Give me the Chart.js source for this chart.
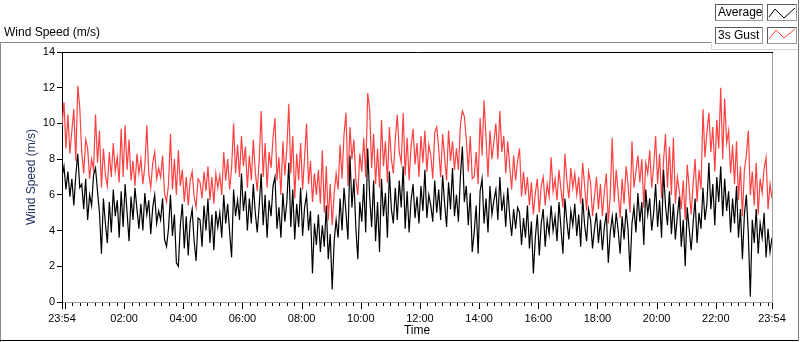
<!DOCTYPE html>
<html>
<head>
<meta charset="utf-8">
<script src="https://cdn.jsdelivr.net/npm/chart.js@4.4.1/dist/chart.umd.min.js"></script>
<style>
  html, body { margin: 0; padding: 0; background: #fff; }
  #wrap { position: relative; width: 800px; height: 342px; overflow: hidden; font-family: "Liberation Sans", Arial, sans-serif; }
  #wrap canvas { position: absolute; left: 0; top: 0; }
  .ln { position: absolute; }
  .title { position: absolute; left: 4px; top: 25px; font-size: 12px; line-height: 14px; color: #000; white-space: nowrap; }
  .box { position: absolute; height: 17px; box-sizing: border-box; background: #fff;
         border: 1px solid #5a5a5a; border-right-color: #9a9a9a; border-bottom-color: #9a9a9a; }
  .box span { position: absolute; left: 2px; top: 0; font-size: 12px; line-height: 15px; color: #000; white-space: nowrap; }
  .box svg { position: absolute; left: 0; top: 0; }
</style>
</head>
<body>
<div id="wrap">
  <canvas id="c" width="800" height="342"></canvas>
  <div class="title">Wind Speed (m/s)</div>
  <!-- frame -->
  <div class="ln" style="left:0;top:42px;width:711px;height:1px;background:#8a8a8a"></div>
  <div class="ln" style="left:0;top:42px;width:1px;height:300px;background:#8a8a8a"></div>
  <div class="ln" style="left:0;top:340px;width:799px;height:1px;background:#000"></div>
  <div class="ln" style="left:711px;top:42px;width:1px;height:8px;background:#d4d4d4"></div>
  <div class="ln" style="left:711px;top:49px;width:88px;height:1px;background:#d4d4d4"></div>
  <div class="ln" style="left:798px;top:0;width:1px;height:341px;background:#7a7a7a"></div>
  <!-- legend -->
  <div class="box" style="left:715px;top:4px;width:48px"><span>Average</span></div>
  <div class="box" style="left:767px;top:4px;width:30px">
    <svg width="28" height="15"><polyline points="1,12 7,4 16,13 27,3" fill="none" stroke="#000" stroke-width="1"/></svg>
  </div>
  <div class="box" style="left:715px;top:27px;width:48px"><span>3s Gust</span></div>
  <div class="box" style="left:767px;top:27px;width:30px">
    <svg width="28" height="15"><polyline points="1,11 8,2 16,10 27,1" fill="none" stroke="#ff4040" stroke-width="1"/></svg>
  </div>
</div>
<script>
// samples every 4 minutes, starting 23:54
const stepMin = 4;

const avgSpeed = [
  7.0, 7.6, 6.3, 7.3, 5.9, 6.9, 5.4, 7.1, 8.3, 6.4,
  6.6, 5.2, 6.9, 4.6, 6.0, 5.4, 7.1, 7.5, 6.2, 5.0,
  2.7, 5.8, 4.4, 3.3, 5.6, 3.9, 6.3, 4.8, 5.7, 3.6,
  6.2, 4.2, 6.6, 5.0, 3.4, 5.9, 4.6, 6.4, 5.2, 4.1,
  5.5, 4.0, 6.1, 4.9, 5.7, 3.8, 5.3, 6.0, 4.4, 5.1,
  4.6, 5.8, 3.5, 3.1, 4.1, 6.0, 3.7, 4.9, 2.2, 2.0,
  4.3, 5.5, 3.0, 4.8, 2.6, 4.5, 5.2, 3.4, 2.3, 4.7,
  4.6, 3.1, 5.4, 4.0, 5.8, 3.3, 4.9, 2.9, 5.1, 4.2,
  5.0, 3.6, 6.0, 4.4, 5.5, 3.9, 2.5, 6.3, 4.8, 5.7,
  4.6, 7.2, 5.1, 6.2, 4.0, 5.8, 4.4, 6.6, 5.0, 3.9,
  5.4, 7.2, 4.3, 6.0, 3.6, 5.7, 4.8, 6.5, 7.0, 4.1,
  5.3, 3.6, 6.1, 4.5, 5.6, 7.8, 4.2, 6.3, 3.5, 5.5,
  4.2, 6.4, 3.7, 5.3, 6.0, 4.0, 5.1, 1.6, 4.4, 3.2,
  4.9, 2.8, 4.3, 3.1, 5.4, 2.4, 3.8, 0.7, 3.4, 4.6,
  3.6, 5.8, 4.0, 6.4, 5.0, 3.5, 8.2, 5.3, 6.9, 4.1,
  2.4, 5.6, 4.5, 6.6, 3.9, 8.6, 5.9, 4.2, 6.8, 3.4,
  5.6, 2.8, 6.9, 4.8, 6.1, 3.6, 7.3, 5.2, 4.4, 6.4,
  4.6, 6.8, 5.3, 7.6, 4.1, 6.2, 3.9, 5.7, 6.6, 4.7,
  5.9, 4.4, 6.5, 5.1, 7.4, 4.7, 6.0, 5.4, 4.5, 6.8,
  5.0, 6.3, 4.6, 7.1, 5.5, 4.2, 6.7, 5.2, 7.5, 4.8,
  6.0, 4.5, 7.0, 8.7, 5.6, 6.5, 4.3, 6.1, 2.8, 3.9,
  5.4, 2.7, 6.2, 6.9, 4.4, 5.8, 3.9, 6.5, 4.9, 5.7,
  6.3, 4.6, 7.0, 5.1, 5.9, 4.2, 6.4, 4.8, 3.7, 5.2,
  4.1, 5.3, 5.0, 3.2, 4.7, 3.6, 5.4, 3.0, 4.5, 1.6,
  3.6, 4.9, 2.6, 4.4, 5.2, 3.1, 4.6, 3.8, 5.4, 4.0,
  4.8, 3.4, 5.6, 4.1, 2.7, 5.8, 4.5, 3.5, 5.1, 4.3,
  5.5, 3.7, 4.9, 3.1, 5.8, 4.3, 3.4, 5.2, 4.6, 3.0,
  4.1, 5.0, 3.3, 4.6, 2.9, 4.2, 5.0, 2.2, 3.9, 4.8,
  3.6, 5.0, 4.0, 2.7, 4.8, 3.5, 5.2, 4.1, 1.7, 4.4,
  5.3, 3.9, 6.1, 4.5, 5.6, 3.2, 6.3, 4.9, 5.8, 4.0,
  5.0, 6.6, 4.2, 5.7, 3.6, 7.4, 5.4, 4.3, 6.2, 3.8,
  5.5, 3.5, 4.8, 5.9, 3.1, 4.6, 2.0, 5.3, 4.1, 2.9,
  4.4, 5.8, 3.3, 5.0, 4.1, 6.4, 4.6, 5.5, 7.8, 5.2,
  6.6, 4.3, 7.0, 5.6, 7.6, 4.8, 6.9, 5.1, 6.2, 3.9,
  5.8, 4.4, 6.5, 3.6, 5.2, 2.4, 4.9, 6.0, 3.8, 0.3,
  4.6, 3.3, 5.2, 2.7, 4.4, 3.6, 5.0, 2.5, 4.1, 2.8, 3.6
];

const gustSpeed = [
  9.9, 11.2, 8.6, 10.5, 8.3, 9.6, 10.8, 7.9, 12.1, 10.9,
  8.4, 7.2, 9.1, 8.6, 6.9, 8.0, 7.4, 10.5, 7.8, 9.6,
  6.4, 8.6, 7.1, 6.5, 8.4, 7.0, 8.9, 7.3, 8.1, 6.7,
  9.7, 7.0, 9.9, 7.4, 9.1, 6.8, 7.9, 6.5, 8.3, 7.2,
  8.0, 6.6, 7.6, 9.9, 7.2, 6.4, 7.8, 8.4, 6.9, 7.5,
  7.0, 8.2, 6.1, 5.6, 6.6, 9.4, 6.3, 8.0, 6.0, 8.5,
  6.5, 7.4, 5.6, 7.0, 5.4, 6.8, 7.3, 5.9, 5.3, 6.9,
  6.7, 5.8, 7.3, 6.2, 7.6, 5.7, 7.0, 5.5, 7.2, 6.4,
  7.1, 6.0, 8.4, 6.8, 8.0, 6.3, 7.5, 10.0, 7.2, 8.8,
  7.0, 9.3, 7.6, 8.7, 6.4, 8.2, 6.8, 9.1, 7.3, 6.2,
  8.0, 10.7, 7.0, 8.9, 6.4, 8.4, 7.5, 9.2, 10.3, 6.8,
  8.1, 6.0, 9.0, 7.1, 8.6, 11.1, 7.2, 9.3, 5.8, 8.3,
  6.8, 8.9, 6.3, 8.1, 10.0, 6.6, 7.9, 5.6, 7.2, 6.0,
  7.4, 5.5, 8.5, 5.0, 7.6, 4.6, 6.6, 4.3, 6.1, 7.2,
  6.3, 8.8, 6.9, 9.4, 10.6, 6.5, 9.8, 8.0, 9.1, 6.8,
  6.0, 8.3, 7.3, 9.2, 7.0, 11.7, 10.8, 7.5, 9.4, 6.6,
  8.6, 6.4, 10.2, 7.6, 9.0, 6.7, 9.8, 8.0, 7.2, 9.1,
  10.5, 8.4, 7.8, 10.6, 7.1, 9.2, 6.8, 8.7, 9.7, 7.7,
  8.9, 7.0, 9.3, 7.8, 9.6, 7.3, 8.8, 8.2, 6.9, 9.5,
  9.8, 8.6, 7.0, 9.4, 8.1, 6.8, 9.6, 7.9, 9.0, 7.4,
  8.6, 7.4, 9.9, 10.7, 10.4, 9.1, 7.3, 9.3, 6.9, 7.0,
  8.4, 6.6, 10.3, 8.2, 11.3, 9.2, 7.0, 9.6, 8.0, 9.0,
  10.0, 8.0, 10.7, 8.4, 9.3, 7.2, 9.0, 7.6, 6.3, 8.2,
  6.8, 7.9, 8.6, 5.9, 7.3, 6.0, 7.0, 5.4, 6.7, 4.9,
  6.1, 6.9, 5.0, 6.5, 7.0, 5.4, 6.6, 5.9, 8.1, 6.2,
  6.9, 5.7, 7.4, 6.3, 5.3, 8.3, 6.8, 5.8, 7.5, 6.4,
  7.2, 6.0, 7.0, 5.5, 7.8, 6.5, 5.1, 7.3, 6.7, 4.8,
  5.9, 7.0, 5.2, 6.6, 4.8, 6.2, 7.2, 4.4, 6.0, 9.2,
  5.6, 7.4, 6.1, 4.7, 6.9, 5.5, 7.6, 6.6, 5.0, 9.0,
  6.4, 7.3, 8.2, 6.7, 8.0, 5.3, 7.8, 7.2, 8.5, 6.4,
  7.6, 9.3, 6.6, 8.3, 5.8, 7.9, 9.4, 6.4, 8.7, 6.0,
  9.2, 5.5, 7.0, 6.2, 5.2, 6.8, 4.6, 7.7, 6.4, 4.9,
  6.6, 8.0, 5.6, 7.4, 6.3, 10.8, 8.1, 9.5, 10.6, 8.4,
  9.8, 7.3, 10.2, 8.6, 12.0, 8.0, 11.4, 8.9, 9.6, 7.2,
  8.8, 6.6, 9.0, 5.7, 7.6, 4.8, 7.4, 8.2, 9.6, 6.0,
  7.3, 5.4, 7.8, 4.9, 6.9, 6.1, 7.5, 8.1, 5.2, 6.6, 5.8
];

// x axis, minutes after 23:54
const labelMinutes = [0, 126, 246, 366, 486, 606, 726, 846, 966, 1086, 1206, 1326, 1440];
const labelTexts = ["23:54", "02:00", "04:00", "06:00", "08:00", "10:00", "12:00",
                    "14:00", "16:00", "18:00", "20:00", "22:00", "23:54"];
const yTicks = [0, 2, 4, 6, 8, 10, 12, 14];

// minor ticks every 15 min from 00:00, major every 2 h
let tickMinutes = [0];
for (let m = 6; m < 1440; m += 15) tickMinutes.push(m);
tickMinutes.push(1440);
const isMajor = m => m === 0 || m === 1440 || (m - 6) % 120 === 0;

const toXY = arr => arr.map((v, i) => ({ x: i * stepMin, y: v }));

const plotFrame = {
  id: "plotFrame",
  afterDraw(chart) {
    const { ctx, chartArea: a, scales: { x } } = chart;
    ctx.save();
    ctx.lineWidth = 1;
    ctx.strokeStyle = "#000";
    ctx.beginPath();
    ctx.moveTo(a.left, a.top + 0.5);
    ctx.lineTo(a.right + 1, a.top + 0.5);
    tickMinutes.forEach(m => {
      const px = Math.round(x.getPixelForValue(m)) + 0.5;
      ctx.moveTo(px, a.bottom + 1);
      ctx.lineTo(px, a.bottom + 1 + (isMajor(m) ? 6 : 3));
    });
    ctx.stroke();
    ctx.strokeStyle = "#a0a0a0";
    ctx.beginPath();
    ctx.moveTo(Math.round(a.right) + 0.5, a.top + 1);
    ctx.lineTo(Math.round(a.right) + 0.5, a.bottom + 1);
    ctx.stroke();
    ctx.restore();
  }
};

new Chart(document.getElementById("c"), {
  type: "line",
  data: {
    datasets: [{
      label: "Average",
      data: toXY(avgSpeed),
      borderColor: "#000",
      borderWidth: 1.2,
      pointRadius: 0,
      tension: 0
    }, {
      label: "3s Gust",
      data: toXY(gustSpeed),
      borderColor: "#ff4040",
      borderWidth: 1.2,
      pointRadius: 0,
      tension: 0
    }]
  },
  options: {
    responsive: false,
    animation: false,
    events: [],
    layout: { padding: { left: 0, top: 52, right: 28, bottom: 0 } },
    plugins: { legend: { display: false }, tooltip: { enabled: false } },
    scales: {
      x: {
        type: "linear",
        min: 0,
        max: 1440,
        afterFit: s => { s.height = 40; },
        afterBuildTicks: s => { s.ticks = tickMinutes.map(v => ({ value: v })); },
        grid: { display: false },
        border: { display: true, color: "#a0a0a0" },
        ticks: {
          autoSkip: false,
          maxRotation: 0,
          padding: 2,
          color: "#000",
          font: { family: "Liberation Sans", size: 11 },
          callback: v => {
            const k = labelMinutes.indexOf(v);
            return k >= 0 ? labelTexts[k] : "";
          }
        },
        title: {
          display: true,
          text: "Time",
          color: "#000",
          font: { family: "Liberation Sans", size: 12 },
          padding: { top: 0, bottom: 4 }
        }
      },
      y: {
        min: 0,
        max: 14,
        afterFit: s => { s.width = 62; },
        afterBuildTicks: s => { s.ticks = yTicks.map(v => ({ value: v })); },
        grid: { drawOnChartArea: false, drawTicks: true, tickLength: 5, color: "#000" },
        border: { display: true, color: "#000" },
        ticks: {
          padding: 2,
          color: "#000",
          font: { family: "Liberation Sans", size: 11 }
        },
        title: {
          display: true,
          text: "Wind Speed (m/s)",
          color: "#1e2f5c",
          font: { family: "Liberation Sans", size: 12 },
          padding: { top: 24, bottom: 0 }
        }
      }
    }
  },
  plugins: [plotFrame]
});
</script>
</body>
</html>
